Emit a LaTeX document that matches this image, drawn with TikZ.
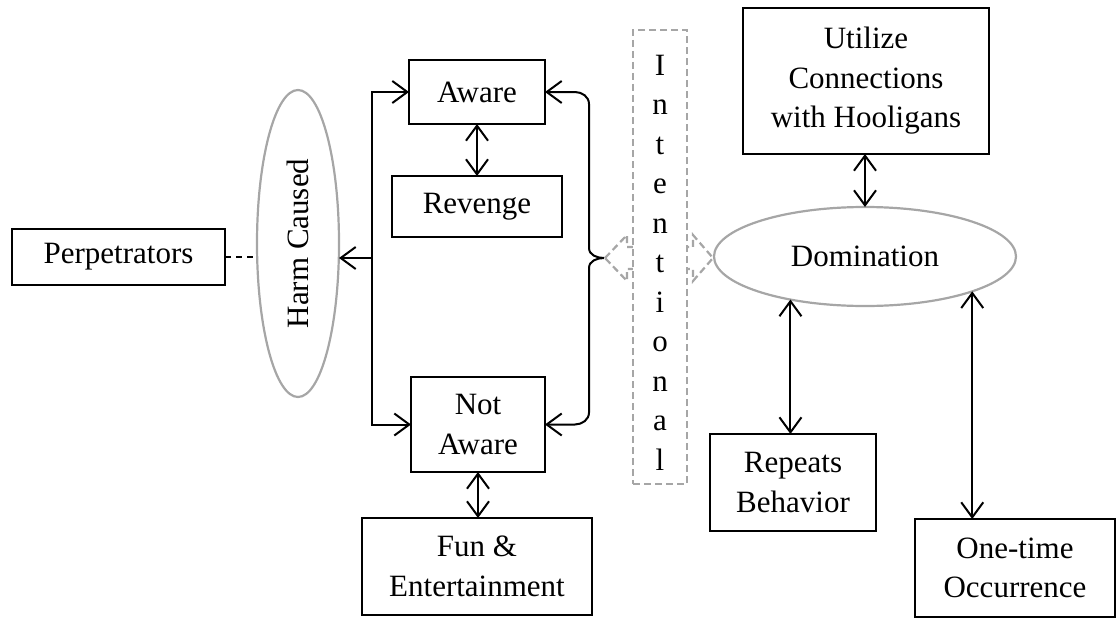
\documentclass[tikz,border=0pt]{standalone}
\usepackage{fontspec}
\usepackage{graphicx}
\setmainfont{Liberation Serif}
\usetikzlibrary{arrows.meta,shapes.geometric,calc}
\definecolor{linegray}{RGB}{166,166,166}
\begin{document}
\begin{tikzpicture}[x=1pt,y=-1pt,
  every node/.style={font=\fontsize{31}{39.5}\selectfont, inner sep=0pt, outer sep=0pt, align=center},
  box/.style={draw=black, line width=2.6pt, rectangle},
  oval/.style={draw=linegray, line width=2.2pt, ellipse},
  link/.style={line width=2pt, black},
  graydash/.style={draw=linegray, line width=2.2pt, dash pattern=on 7pt off 4pt},
  >={Straight Barb[length=15pt,width=22pt]},
]
\useasboundingbox (0,0) rectangle (1116,618);

% two-headed block arrow behind the "Intentional" column
\draw[graydash, fill=white, line join=miter]
  (605,258) -- (627,235) -- (627,247) -- (693,247) -- (693,235) -- (713,258)
  -- (693,281) -- (693,269) -- (627,269) -- (627,281) -- cycle;

% nodes
\node[box, minimum width=213pt, minimum height=56pt] (perp) at (118.5,257) {Perpetrators};
\node[oval, minimum width=82pt, minimum height=307pt] (harm) at (298,243.5) {\rotatebox{90}{Harm Caused}};
\node[box, minimum width=136pt, minimum height=64pt] (aware) at (477,92) {Aware};
\node[box, minimum width=170pt, minimum height=61pt] (revenge) at (477,206.5) {Revenge};
\node[box, minimum width=134pt, minimum height=95pt] (notaware) at (478,424.5) {Not\\Aware};
\node[box, minimum width=230pt, minimum height=97pt] (fun) at (477,566.5) {Fun \&\\Entertainment};
\node[graydash, fill=white, minimum width=54pt, minimum height=454pt] (intent) at (660,257)
  {\rule{0pt}{31pt}I\\n\\t\\e\\n\\t\\i\\o\\n\\a\\l};
\node[box, minimum width=246pt, minimum height=146pt] (utilize) at (866,81) {Utilize\\Connections\\with Hooligans};
\node[oval, minimum width=302pt, minimum height=99pt] (domination) at (865,256.5) {Domination};
\node[box, minimum width=166pt, minimum height=97pt] (repeats) at (793,482.5) {Repeats\\Behavior};
\node[box, minimum width=200pt, minimum height=98pt] (onetime) at (1015,568) {One-time\\Occurrence};

% helper points for the bracket and the brace
\coordinate (lx) at (372,258);
\coordinate (bx) at (589,0);
\coordinate (btip) at (604,258);

% Perpetrators to Harm Caused
\draw[link, dash pattern=on 6pt off 5pt] (perp.east) -- (perp.east -| harm.west);

% left bracket
\draw[link, <->] (aware.west) -- (aware.west -| lx) -- (notaware.west -| lx) -- (notaware.west);
\draw[link, ->] (lx) -- (lx -| harm.east);

% right brace
\draw[link, <-] (aware.east) -- ($(aware.east -| bx)+(-14,0)$)
  to[out=0,in=90] ($(aware.east -| bx)+(0,12)$)
  -- ($(btip -| bx)+(0,-10)$) to[out=-90,in=180] (btip);
\draw[link, ->] (btip) to[out=180,in=90] ($(btip -| bx)+(0,10)$)
  -- ($(notaware.east -| bx)+(0,-12)$) to[out=-90,in=0] ($(notaware.east -| bx)+(-14,0)$)
  -- (notaware.east);

% vertical links
\draw[link, <->] (aware.south) -- (revenge.north);
\draw[link, <->] (notaware.south) -- (notaware.south |- fun.north);
\draw[link, <->] (utilize.south -| domination.north) -- (domination.north);
\draw[link, <->] (domination.210.8) -- (domination.210.8 |- repeats.north);
\draw[link, <->] (domination.-18) -- (domination.-18 |- onetime.north);
\end{tikzpicture}
\end{document}
